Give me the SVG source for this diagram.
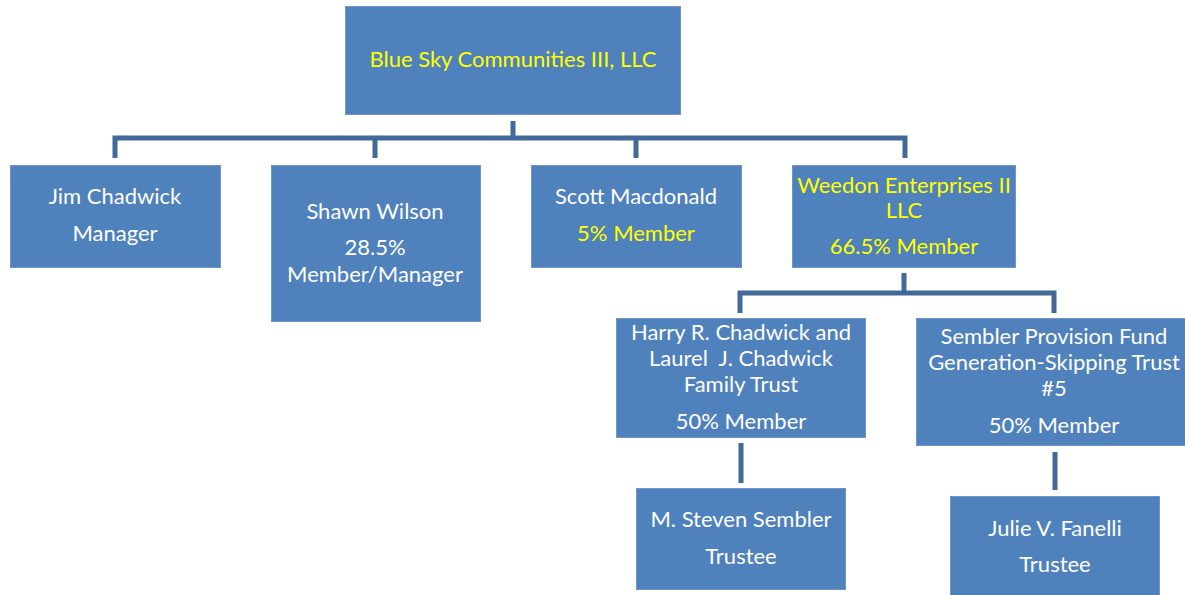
<svg xmlns="http://www.w3.org/2000/svg" width="1185" height="595" viewBox="0 0 1185 595">
<style>
.box{fill:#4F81BD;stroke:#7096C8;stroke-width:1}
.t{font-family:Lato,"Open Sans",sans-serif;font-size:22px;fill:#FFFFFF;text-anchor:middle}
.y{fill:#FFFF00}
.c{fill:none;stroke:#41699A;stroke-width:5}
</style>
<rect width="1185" height="595" fill="#FFFFFF"/>
<g id="connectors">
<path class="c" d="M513 121 V138 M115 158 V138 H905 V158 M375 138 V158 M636 138 V158"/>
<path class="c" d="M904 273 V293 M740 313 V293 H1054 V313"/>
<path class="c" d="M741 443 V483"/>
<path class="c" d="M1055 452 V490"/>
</g>
<g id="root">
<rect class="box" x="345.5" y="6.5" width="335" height="108"/>
<text class="t y" x="513" y="67">Blue Sky Communities III, LLC</text>
</g>
<g id="jim">
<rect class="box" x="10.5" y="165.5" width="210" height="102"/>
<text class="t" x="115" y="204">Jim Chadwick</text>
<text class="t" x="115" y="241">Manager</text>
</g>
<g id="shawn">
<rect class="box" x="271.5" y="165.5" width="209" height="156"/>
<text class="t" x="375" y="219">Shawn Wilson</text>
<text class="t" x="375" y="255">28.5%</text>
<text class="t" x="375" y="282">Member/Manager</text>
</g>
<g id="scott">
<rect class="box" x="531.5" y="165.5" width="210" height="102"/>
<text class="t" x="636" y="204">Scott Macdonald</text>
<text class="t y" x="636" y="241">5% Member</text>
</g>
<g id="weedon">
<rect class="box" x="792.5" y="165.5" width="223" height="102"/>
<text class="t y" x="904" y="193">Weedon Enterprises II</text>
<text class="t y" x="904" y="218">LLC</text>
<text class="t y" x="904" y="254">66.5% Member</text>
</g>
<g id="harry">
<rect class="box" x="616.5" y="318.5" width="249" height="119"/>
<text class="t" x="741" y="340">Harry R. Chadwick and</text>
<text class="t" x="741" y="366" xml:space="preserve">Laurel  J. Chadwick</text>
<text class="t" x="741" y="392">Family Trust</text>
<text class="t" x="741" y="429">50% Member</text>
</g>
<g id="sembler-trust">
<rect class="box" x="916.5" y="318.5" width="269" height="127"/>
<text class="t" x="1054" y="344">Sembler Provision Fund</text>
<text class="t" x="1054" y="370">Generation-Skipping Trust</text>
<text class="t" x="1054" y="396">#5</text>
<text class="t" x="1054" y="433">50% Member</text>
</g>
<g id="steven">
<rect class="box" x="636.5" y="488.5" width="209" height="101"/>
<text class="t" x="741" y="527">M. Steven Sembler</text>
<text class="t" x="741" y="564">Trustee</text>
</g>
<g id="julie">
<rect class="box" x="950.5" y="496.5" width="209" height="99"/>
<text class="t" x="1055" y="536">Julie V. Fanelli</text>
<text class="t" x="1055" y="572">Trustee</text>
</g>
</svg>
